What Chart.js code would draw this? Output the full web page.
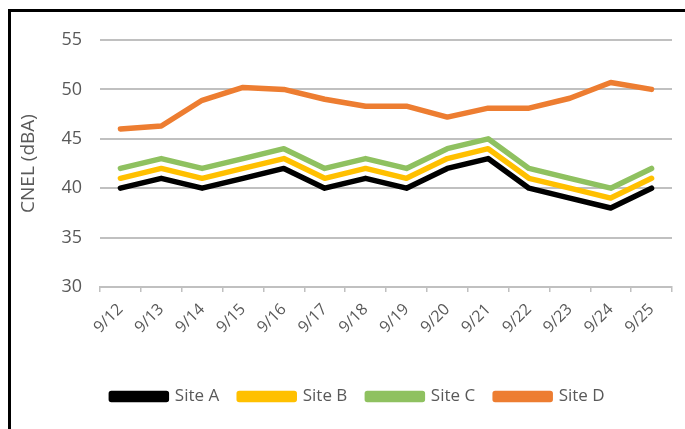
<!DOCTYPE html>
<html lang="en">

<head>
    <meta charset="UTF-8">
    <title>CNEL by site</title>
    <script src="https://cdn.jsdelivr.net/npm/chart.js"></script>
    <style>
        * {
            margin: 0;
            padding: 0;
            box-sizing: border-box;
        }

        body {
            background-color: #ffffff;
            width: 685px;
            height: 429px;
            overflow: hidden;
            position: relative;
        }

        #frame {
            position: absolute;
            left: 8px;
            top: 9px;
            width: 720px;
            height: 460px;
            border: 3px solid #000000;
            pointer-events: none;
        }

        #wrap {
            position: absolute;
            left: 0;
            top: 0;
            width: 685px;
            height: 429px;
        }
    </style>
</head>

<body>
    <div id="wrap"><canvas id="cnelChart"></canvas></div>
    <div id="frame"></div>

    <script>
        // Dates on the x axis
        const dates = ['9/12', '9/13', '9/14', '9/15', '9/16', '9/17', '9/18', '9/19', '9/20', '9/21', '9/22', '9/23', '9/24', '9/25'];

        // CNEL values per site (dBA)
        const siteA = [40, 41, 40, 41, 42, 40, 41, 40, 42, 43, 40, 39, 38, 40];
        const siteB = [41, 42, 41, 42, 43, 41, 42, 41, 43, 44, 41, 40, 39, 41];
        const siteC = [42, 43, 42, 43, 44, 42, 43, 42, 44, 45, 42, 41, 40, 42];
        const siteD = [46, 46.3, 48.9, 50.2, 50, 49, 48.3, 48.3, 47.2, 48.1, 48.1, 49.1, 50.7, 50];

        const family = "'Open Sans', 'Liberation Sans', sans-serif";
        const textColor = '#595959';

        const line = (label, data, color) => ({
            label: label,
            data: data,
            borderColor: color,
            backgroundColor: color,
            borderWidth: 5.5,
            borderCapStyle: 'round',
            borderJoinStyle: 'round',
            pointRadius: 0,
            tension: 0,
            fill: false
        });

        // nudge the legend a bit to the right, like the original
        const legendShift = {
            id: 'legendShift',
            afterLayout: chart => {
                chart.legend.left += 16;
                chart.legend.right += 16;
            }
        };

        const ctx = document.getElementById('cnelChart').getContext('2d');

        new Chart(ctx, {
            type: 'line',
            data: {
                labels: dates,
                datasets: [
                    line('Site A', siteA, '#000000'),
                    line('Site B', siteB, '#ffc000'),
                    line('Site C', siteC, '#8fc160'),
                    line('Site D', siteD, '#ed7d31')
                ]
            },
            options: {
                responsive: true,
                maintainAspectRatio: false,
                animation: false,
                layout: {
                    padding: { left: 12, right: 13, top: 40, bottom: 14 }
                },
                plugins: {
                    legend: {
                        position: 'bottom',
                        labels: {
                            color: textColor,
                            font: { family: family, size: 17 },
                            boxWidth: 55,
                            boxHeight: 6,
                            padding: 20
                        }
                    },
                    tooltip: { enabled: false }
                },
                scales: {
                    x: {
                        offset: true,
                        grid: {
                            offset: true,
                            drawOnChartArea: false,
                            drawTicks: true,
                            tickLength: 5,
                            color: '#c0c0c0',
                            lineWidth: 1.5
                        },
                        border: { color: '#c0c0c0', width: 2 },
                        ticks: {
                            color: textColor,
                            font: { family: family, size: 16 },
                            minRotation: 45,
                            maxRotation: 45,
                            padding: 8
                        },
                        afterFit: scale => { scale.height = 81; }
                    },
                    y: {
                        min: 30,
                        max: 55,
                        ticks: {
                            stepSize: 5,
                            color: textColor,
                            font: { family: family, size: 18 },
                            padding: 18
                        },
                        grid: {
                            color: '#c0c0c0',
                            lineWidth: 2,
                            drawTicks: false
                        },
                        border: { display: false },
                        title: {
                            display: true,
                            text: 'CNEL (dBA)',
                            color: textColor,
                            font: { family: family, size: 19 },
                            padding: { top: 5, bottom: 0 }
                        },
                        afterFit: scale => { scale.width = 88; }
                    }
                }
            },
            plugins: [legendShift]
        });
    </script>
</body>

</html>
